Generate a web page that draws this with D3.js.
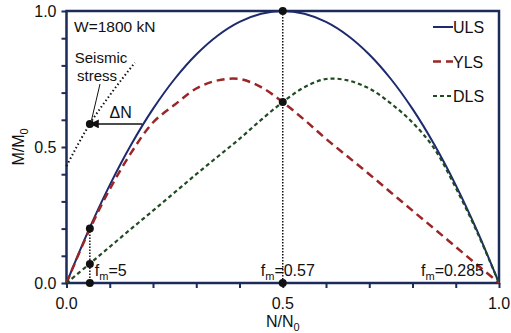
<!DOCTYPE html>
<html>
<head>
<meta charset="utf-8">
<script src="https://cdn.jsdelivr.net/npm/d3@7"></script>
<style>
  body { margin: 0; background: #fff; }
  svg text { font-family: "Liberation Sans", Arial, sans-serif; fill: #111; }
</style>
</head>
<body>
<div id="chart"></div>
<script>
// N/N0 sample positions and the three limit-state curves
const nValues   = [0, 0.05, 0.1, 0.15, 0.2, 0.25, 0.3, 0.35, 0.4, 0.45, 0.5, 0.55, 0.6, 0.65, 0.7, 0.75, 0.8, 0.85, 0.9, 0.95, 1.0];
const ulsValues = [0, 0.19, 0.36, 0.51, 0.64, 0.75, 0.84, 0.91, 0.96, 0.99, 1.0, 0.99, 0.96, 0.91, 0.84, 0.75, 0.64, 0.51, 0.36, 0.19, 0];
const ylsValues = [0, 0.185, 0.345, 0.48, 0.59, 0.655, 0.715, 0.745, 0.75, 0.72, 0.665, 0.6, 0.53, 0.465, 0.4, 0.333, 0.266, 0.2, 0.133, 0.066, 0];
const dlsValues = [0, 0.066, 0.133, 0.2, 0.266, 0.333, 0.4, 0.465, 0.53, 0.6, 0.665, 0.72, 0.75, 0.745, 0.715, 0.66, 0.59, 0.495, 0.35, 0.185, 0];

// seismic stress path
const seismicN = [0, 0.054, 0.1, 0.158];
const seismicM = [0.43, 0.585, 0.69, 0.81];

// marked points [N, M]
const markers = [[0.054, 0.585], [0.054, 0.2], [0.054, 0.07], [0.054, 0], [0.5, 1.0], [0.5, 0.665], [0.5, 0]];
const dropLines = [[0.054, 0.2], [0.5, 1.0]];
const deltaN = {from: 0.175, to: 0.056, m: 0.585};

const tickValues = [0, 0.5, 1.0];
const legendItems = [
  {name: 'ULS', color: '#1d2a6e', dash: null, width: 2},
  {name: 'YLS', color: '#9a2626', dash: '8,5', width: 2.5},
  {name: 'DLS', color: '#1f4a22', dash: '4,3', width: 2.2}
];
const fmLabels = [{n: 0.054, dx: 5, v: '5'}, {n: 0.5, dx: -22, v: '0.57'}, {n: 1.0, dx: -78, v: '0.285'}];

const width = 511, height = 333;
const margin = [11, 50, 66.5, 12]; // top, bottom, left, right
const axisColor = '#1d2a5c';

const svg = d3.select('#chart').append('svg')
  .attr('width', width).attr('height', height);

const x = d3.scaleLinear([0, 1], [margin[2], width - margin[3]]);
const y = d3.scaleLinear([0, 1], [height - margin[1], margin[0]]);

// axes with minor ticks every 0.1, labels only at 0, 0.5, 1
const minor = d3.range(0, 1.0001, 0.1);
const xAxis = svg.append('g').attr('transform', `translate(0,${y(0)})`)
  .call(d3.axisBottom(x).tickValues(minor).tickSize(5).tickFormat(''));
const yAxis = svg.append('g').attr('transform', `translate(${x(0)},0)`)
  .call(d3.axisLeft(y).tickValues(minor).tickSize(5).tickFormat(''));
[xAxis, yAxis].forEach(g => {
  g.select('.domain').remove();
  g.selectAll('line').attr('stroke', axisColor).attr('stroke-width', 2);
});

svg.append('rect')
  .attr('x', x(0)).attr('y', y(1))
  .attr('width', x(1) - x(0)).attr('height', y(0) - y(1))
  .attr('fill', 'none').attr('stroke', axisColor).attr('stroke-width', 2.5);

svg.selectAll('.xlab').data(tickValues).join('text')
  .attr('x', d => x(d)).attr('y', y(0) + 26)
  .attr('text-anchor', 'middle').attr('font-size', 16)
  .text(d => d.toFixed(1));
svg.selectAll('.ylab').data(tickValues).join('text')
  .attr('x', x(0) - 10).attr('y', d => y(d) + 6)
  .attr('text-anchor', 'end').attr('font-size', 16)
  .text(d => d.toFixed(1));

const xTitle = svg.append('text').attr('x', x(0.5)).attr('y', y(0) + 44)
  .attr('text-anchor', 'middle').attr('font-size', 16);
xTitle.append('tspan').text('N/N');
xTitle.append('tspan').attr('font-size', 11).attr('dy', 4).text('0');

const yTitle = svg.append('text')
  .attr('transform', `translate(24,${y(0.5)}) rotate(-90)`)
  .attr('text-anchor', 'middle').attr('font-size', 16);
yTitle.append('tspan').text('M/M');
yTitle.append('tspan').attr('font-size', 11).attr('dy', 4).text('0');

// curves
const line = d3.line().x(d => x(d[0])).y(d => y(d[1])).curve(d3.curveCatmullRom.alpha(0.5));
const series = [ulsValues, ylsValues, dlsValues];
series.forEach((vals, i) => {
  const it = legendItems[i];
  svg.append('path')
    .datum(nValues.map((n, j) => [n, vals[j]]))
    .attr('d', line)
    .attr('fill', 'none')
    .attr('stroke', it.color)
    .attr('stroke-width', it.width)
    .attr('stroke-dasharray', it.dash);
});

// seismic stress dotted path
svg.append('path')
  .datum(seismicN.map((n, j) => [n, seismicM[j]]))
  .attr('d', d3.line().x(d => x(d[0])).y(d => y(d[1])).curve(d3.curveMonotoneX))
  .attr('fill', 'none').attr('stroke', '#111')
  .attr('stroke-width', 2).attr('stroke-dasharray', '1.5,2.5');

// vertical dotted drop lines
svg.selectAll('.drop').data(dropLines).join('line')
  .attr('x1', d => x(d[0])).attr('x2', d => x(d[0]))
  .attr('y1', d => y(d[1])).attr('y2', y(0))
  .attr('stroke', '#111').attr('stroke-width', 1.5).attr('stroke-dasharray', '1.5,1.5');

// delta N arrow
svg.append('defs').append('marker')
  .attr('id', 'arrow').attr('viewBox', '0 0 10 10')
  .attr('refX', 9).attr('refY', 5)
  .attr('markerWidth', 6).attr('markerHeight', 6)
  .attr('orient', 'auto')
  .append('path').attr('d', 'M0,0L10,5L0,10z').attr('fill', '#111');
svg.append('line')
  .attr('x1', x(deltaN.from)).attr('x2', x(deltaN.to))
  .attr('y1', y(deltaN.m)).attr('y2', y(deltaN.m))
  .attr('stroke', '#111').attr('stroke-width', 1.5)
  .attr('marker-end', 'url(#arrow)');
svg.append('text').attr('x', x(0.125)).attr('y', y(deltaN.m) - 6)
  .attr('text-anchor', 'middle').attr('font-size', 16).text('ΔN');

// markers
svg.selectAll('.pt').data(markers).join('circle')
  .attr('cx', d => x(d[0])).attr('cy', d => y(d[1]))
  .attr('r', 4).attr('fill', '#111');

// seismic stress label with leader
svg.append('line')
  .attr('x1', 100).attr('y1', 84)
  .attr('x2', x(0.058)).attr('y2', y(0.6))
  .attr('stroke', '#111').attr('stroke-width', 1);
svg.append('text').attr('x', 101).attr('y', 63)
  .attr('text-anchor', 'middle').attr('font-size', 15).text('Seismic');
svg.append('text').attr('x', 97).attr('y', 81)
  .attr('text-anchor', 'middle').attr('font-size', 15).text('stress');

svg.append('text').attr('x', 74).attr('y', 32)
  .attr('font-size', 15.5).text('W=1800 kN');

// f_m labels
fmLabels.forEach(f => {
  const t = svg.append('text').attr('x', x(f.n) + f.dx).attr('y', y(0) - 7)
    .attr('font-size', 16);
  t.append('tspan').text('f');
  t.append('tspan').attr('font-size', 11).attr('dy', 4).text('m');
  t.append('tspan').attr('dy', -4).text('=' + f.v);
});

// legend
const leg = svg.selectAll('.leg').data(legendItems).join('g')
  .attr('transform', (d, i) => `translate(433,${27 + i * 34.5})`);
leg.append('line')
  .attr('x1', 0).attr('x2', 20)
  .attr('stroke', d => d.color).attr('stroke-width', d => d.width)
  .attr('stroke-dasharray', d => d.dash);
leg.append('text').attr('x', 20).attr('y', 6)
  .attr('font-size', 16).text(d => d.name);
</script>
</body>
</html>
